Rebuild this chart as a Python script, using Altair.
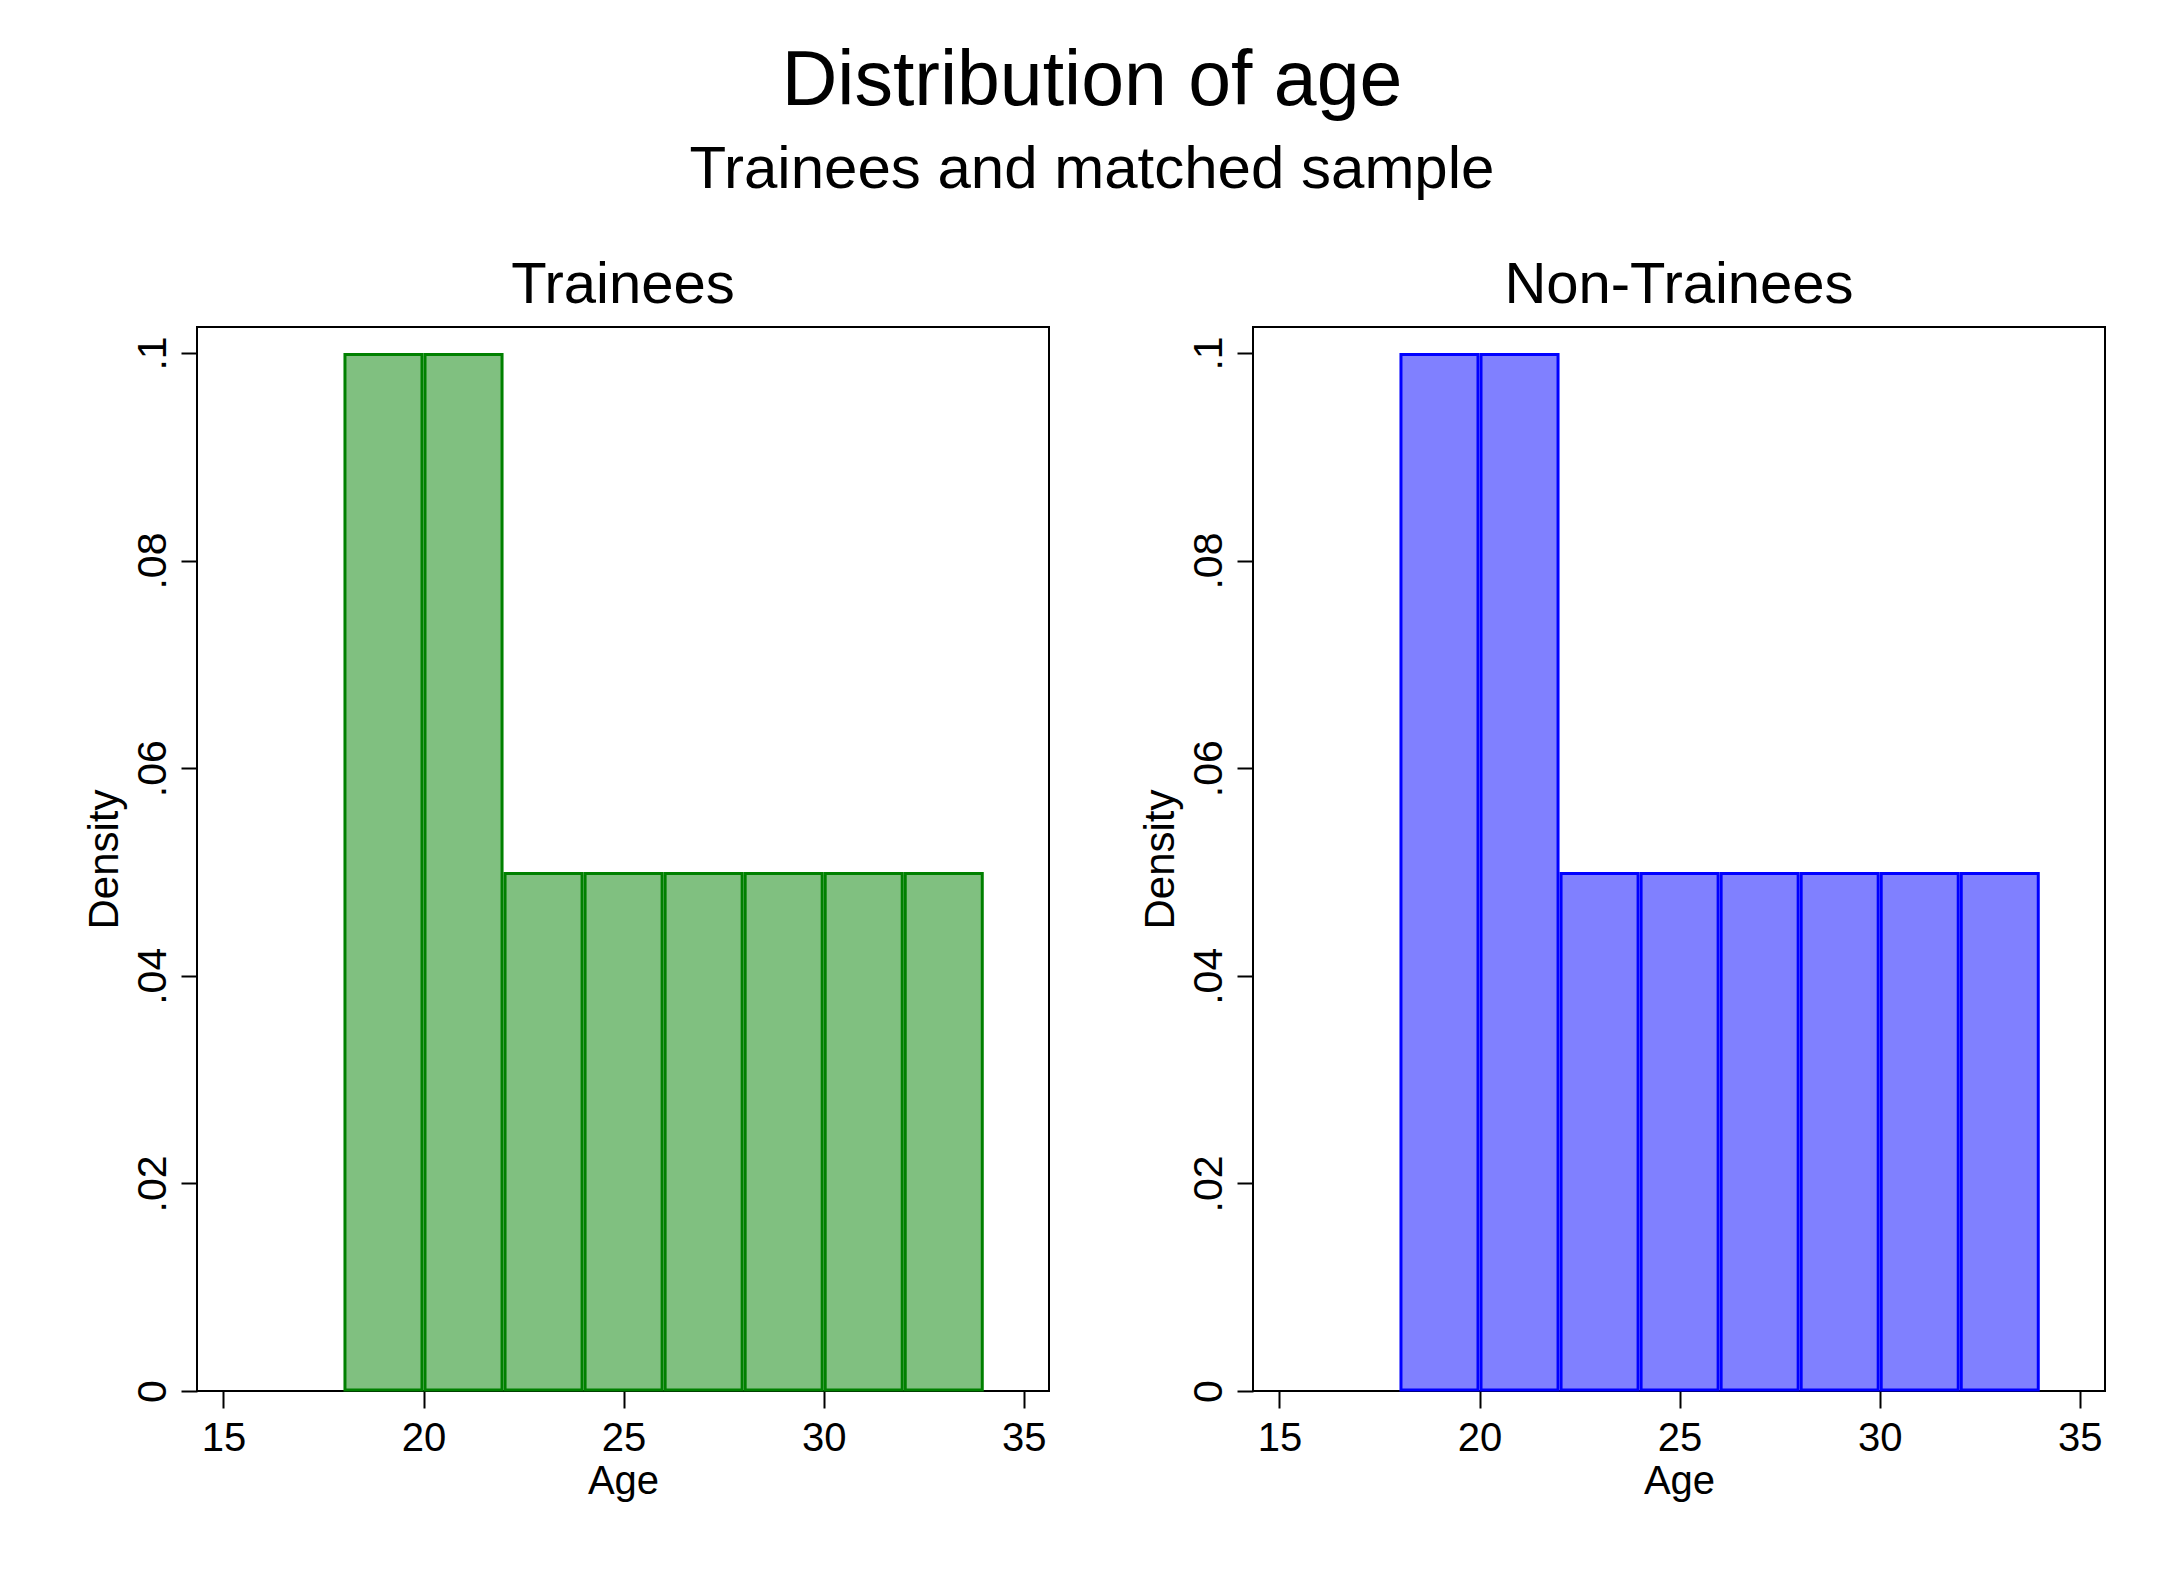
import altair as alt
import pandas as pd

FONT = "Liberation Sans"

bin_start = [18, 20, 22, 24, 26, 28, 30, 32]
bin_end = [20, 22, 24, 26, 28, 30, 32, 34]
trainee_density = [0.1, 0.1, 0.05, 0.05, 0.05, 0.05, 0.05, 0.05]
nontrainee_density = [0.1, 0.1, 0.05, 0.05, 0.05, 0.05, 0.05, 0.05]

x_ticks = [15, 20, 25, 30, 35]
y_ticks = [0, 0.02, 0.04, 0.06, 0.08, 0.1]

df_t = pd.DataFrame({"start": bin_start, "end": bin_end, "density": trainee_density})
df_n = pd.DataFrame({"start": bin_start, "end": bin_end, "density": nontrainee_density})

y_label_expr = "datum.value == 0 ? '0' : replace(format(datum.value, '.2~f'), /^0/, '')"


def panel(df, title, fill, stroke):
    x = alt.X(
        "start:Q",
        scale=alt.Scale(domain=[14.34, 35.63], nice=False, zero=False),
        axis=alt.Axis(
            values=x_ticks,
            title="Age",
            domain=False,
            grid=False,
            tickSize=17,
            tickWidth=2,
            tickColor="black",
            labelFont=FONT,
            labelFontSize=40,
            labelColor="black",
            labelPadding=10,
            labelBaseline="top",
            labelFlush=False,
            labelOverlap=False,
            titleFont=FONT,
            titleFontSize=40,
            titleFontWeight="normal",
            titleColor="black",
            titleBaseline="alphabetic",
            titleY=102,
        ),
    )
    y = alt.Y(
        "density:Q",
        scale=alt.Scale(domain=[0, 0.1025], nice=False),
        axis=alt.Axis(
            values=y_ticks,
            title="Density",
            domain=False,
            grid=False,
            tickSize=16,
            tickWidth=2,
            tickColor="black",
            labelExpr=y_label_expr,
            labelAngle=270,
            labelAlign="center",
            labelBaseline="alphabetic",
            labelPadding=16,
            labelFont=FONT,
            labelFontSize=41,
            labelColor="black",
            labelFlush=False,
            labelOverlap=False,
            titleFont=FONT,
            titleFontSize=42,
            titleFontWeight="normal",
            titleColor="black",
            titleAngle=270,
            titleAlign="center",
            titleBaseline="alphabetic",
            titleX=-80,
            titleY=532,
        ),
    )
    return (
        alt.Chart(df)
        .mark_rect(
            fill=fill,
            stroke=stroke,
            strokeWidth=3,
            xOffset=1.5,
            x2Offset=-1.5,
            yOffset=1.5,
            y2Offset=-1,
        )
        .encode(x=x, x2="end:Q", y=y, y2=alt.datum(0))
        .properties(
            width=852,
            height=1064,
            title=alt.TitleParams(
                title,
                font=FONT,
                fontSize=58,
                fontWeight="normal",
                color="black",
                baseline="alphabetic",
                offset=-34,
                anchor="middle",
            ),
        )
    )


left = panel(df_t, "Trainees", "#80c080", "#008000")
right = panel(df_n, "Non-Trainees", "#8080ff", "#0000ff")

chart = (
    alt.hconcat(left, right, spacing=204, bounds="flush")
    .properties(
        title=alt.TitleParams(
            "Distribution of age",
            subtitle="Trainees and matched sample",
            font=FONT,
            fontSize=77,
            fontWeight="normal",
            color="black",
            subtitleFont=FONT,
            subtitleFontSize=60,
            subtitleColor="black",
            subtitlePadding=20,
            anchor="middle",
            offset=55,
            dx=-2,
        ),
        padding={"left": 74, "top": 35, "right": 60, "bottom": 60},
        background="white",
    )
    .configure_view(stroke="black", strokeWidth=2)
)

chart.save("out.html", embed_options={"renderer": "svg", "actions": False})
